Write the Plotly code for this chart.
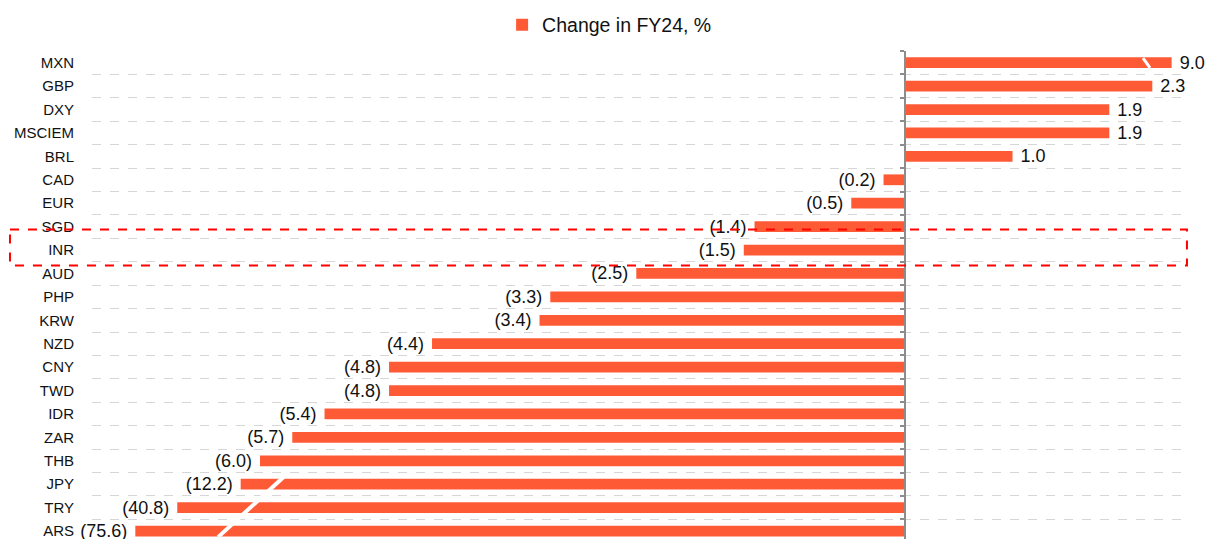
import plotly.graph_objects as go

categories = ["MXN", "GBP", "DXY", "MSCIEM", "BRL", "CAD", "EUR", "SGD", "INR", "AUD",
              "PHP", "KRW", "NZD", "CNY", "TWD", "IDR", "ZAR", "THB", "JPY", "TRY", "ARS"]
change_fy24 = [9.0, 2.3, 1.9, 1.9, 1.0, -0.2, -0.5, -1.4, -1.5, -2.5,
               -3.3, -3.4, -4.4, -4.8, -4.8, -5.4, -5.7, -6.0, -12.2, -40.8, -75.6]
# bars drawn on a broken axis: the long ones are cut short in the picture
shown_length = [2.48, 2.3, 1.9, 1.9, 1.0, -0.2, -0.5, -1.4, -1.5, -2.5,
                -3.3, -3.4, -4.4, -4.8, -4.8, -5.4, -5.7, -6.0, -6.18, -6.77, -7.16]
highlight = "INR"
broken_right = ["MXN"]
broken_left = ["JPY", "TRY", "ARS"]

BAR = "#FF5A36"
FONT = "Liberation Sans, Arial, sans-serif"

ypos = list(range(len(categories)))
labels = [f" {v:.1f}" if v >= 0 else f"({abs(v):.1f}) " for v in change_fy24]

x_range = [-7.563, 2.595]
y_range = [len(categories) - 1 + 0.34, -0.5]

fig = go.Figure()
fig.add_trace(go.Bar(
    x=shown_length, y=ypos, orientation="h", width=0.46,
    marker=dict(color=BAR, line=dict(width=0)),
    name="Change in FY24, %",
    text=labels, textposition="outside", constraintext="none",
    textfont=dict(family=FONT, size=18, color="#111"),
    cliponaxis=False,
))
# invisible trace to hold the zero-line axis
fig.add_trace(go.Scatter(x=[0], y=[0], yaxis="y2", mode="markers",
                         marker=dict(opacity=0), showlegend=False, hoverinfo="skip"))

boundaries = [i - 0.5 for i in range(len(categories) + 1)]

# break marks (white slashes)
idx = {c: i for i, c in enumerate(categories)}
r = idx[broken_right[0]]
fig.add_shape(type="line", xref="x", yref="y", x0=2.214, x1=2.279, y0=r - 0.2, y1=r + 0.22,
              line=dict(color="white", width=3), layer="above")
l0, l1 = idx[broken_left[0]], idx[broken_left[-1]]
fig.add_shape(type="line", xref="x", yref="y", x0=-5.73, x1=-6.39, y0=l0 - 0.52, y1=l1 + 0.26,
              line=dict(color="white", width=4), layer="above")

# highlight box
h = idx[highlight]
fig.add_shape(type="rect", xref="paper", yref="y", x0=-0.0751, x1=1.0027, y0=h - 0.88, y1=h + 0.66,
              line=dict(color="#FF0000", width=2, dash="dash"), fillcolor="rgba(0,0,0,0)", layer="above")

fig.update_layout(
    width=1212, height=539,
    margin=dict(l=92, r=28, t=51, b=0, autoexpand=False),
    plot_bgcolor="white", paper_bgcolor="white",
    font=dict(family=FONT, color="#111"),
    showlegend=True,
    legend=dict(orientation="h", x=0.474, xanchor="center", y=1.053, yanchor="middle",
                font=dict(family=FONT, size=19.5, color="#111"), itemwidth=30),
    xaxis=dict(range=x_range, showgrid=False, zeroline=False, showticklabels=False,
               showline=False, ticks="", automargin=False),
    yaxis=dict(range=y_range, tickvals=ypos, ticktext=categories, showgrid=False,
               zeroline=False, showline=False, ticks="outside", ticklen=14, automargin=False,
               ticklabeloverflow="allow",
               tickcolor="rgba(0,0,0,0)", tickfont=dict(family=FONT, size=15, color="#111"),
               minor=dict(tickvals=boundaries, showgrid=True, gridcolor="#d6d6d6",
                          griddash="dash", gridwidth=1, ticks="")),
    yaxis2=dict(range=y_range, overlaying="y", anchor="free", automargin=False,
                position=(0 - x_range[0]) / (x_range[1] - x_range[0]),
                side="left", showline=True, linecolor="#8c8c8c", linewidth=2,
                tickvals=boundaries, ticks="outside", ticklen=4, tickwidth=2,
                tickcolor="#8c8c8c", showticklabels=False, showgrid=False, zeroline=False),
)

fig.write_html("out.html", config={"displayModeBar": False},
               post_script="document.body.style.margin='0';")
